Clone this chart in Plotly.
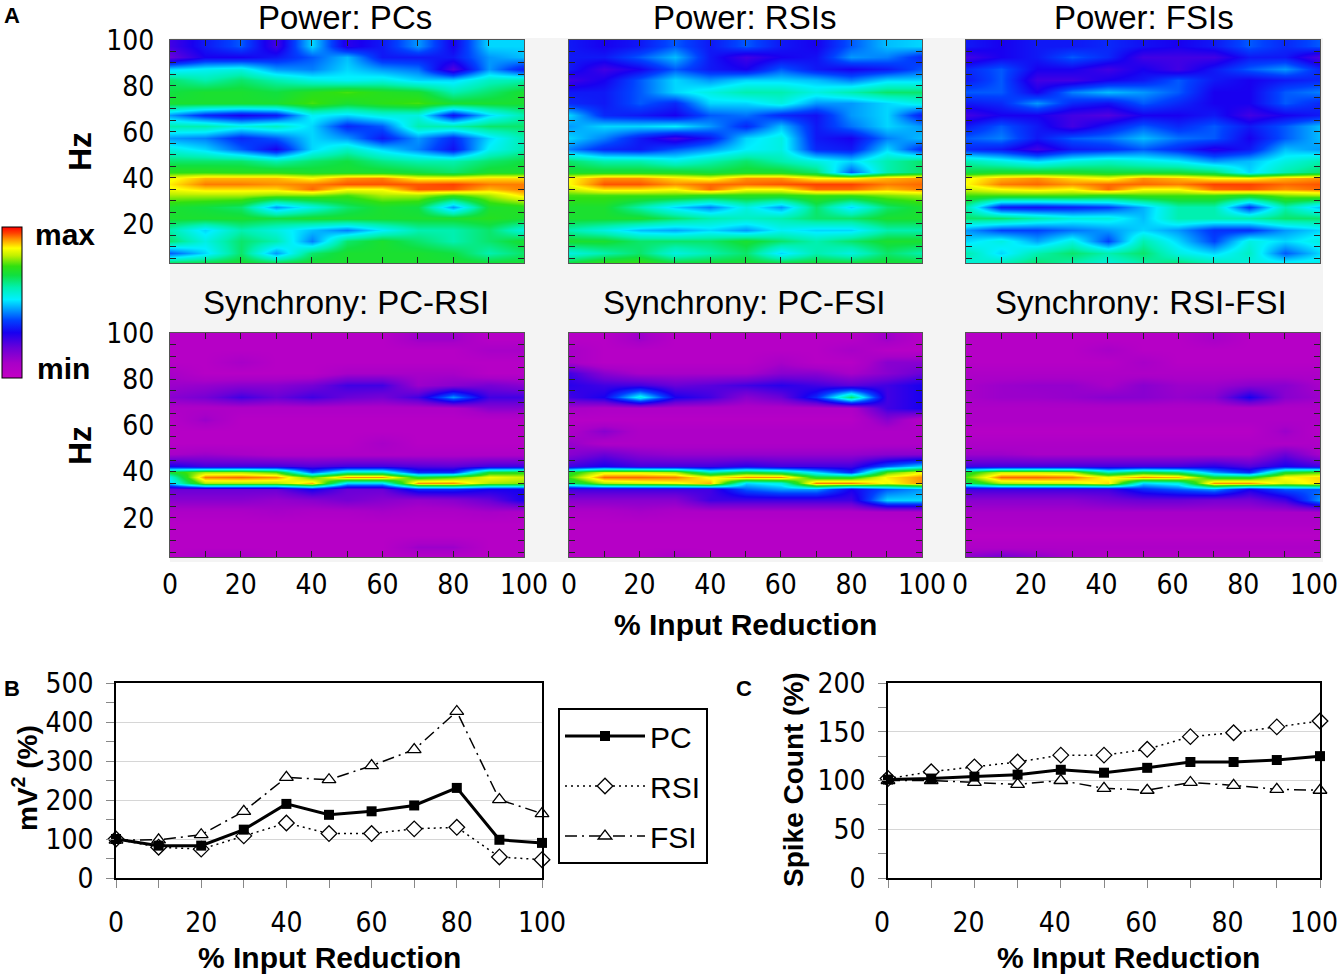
import plotly.graph_objects as go

W, H = 1339, 975

# ---------------- data ----------------
reduction = [0, 10, 20, 30, 40, 50, 60, 70, 80, 90, 100]
# spectrogram rows, top (high Hz) to bottom; finer around the gamma band
freq_hz = [97.5, 92.5, 87.5, 82.5, 77.5, 72.5, 67.5, 62.5, 57.5, 52.5,
           47.5, 42.5, 40, 37.5, 35, 32.5, 27.5, 22.5, 17.5, 12.5, 7.5, 2.5]

# relative level, 0 = min ... 10 = max
power_pcs = [
    [2.5, 3.3, 4.0, 2.5, 5.0, 2.8, 3.3, 4.5, 3.0, 5.0, 5.0],
    [2.0, 3.0, 3.0, 3.3, 4.0, 4.8, 3.3, 3.3, 3.3, 4.5, 4.8],
    [5.0, 5.3, 5.5, 4.5, 4.3, 5.0, 4.5, 4.2, 2.3, 4.5, 3.3],
    [6.5, 6.0, 6.5, 6.0, 5.5, 5.3, 5.5, 5.0, 5.0, 5.8, 6.0],
    [6.8, 7.0, 7.0, 6.8, 7.2, 7.5, 7.2, 7.0, 6.0, 6.5, 7.0],
    [7.0, 7.0, 7.0, 7.0, 7.5, 7.0, 7.3, 7.5, 7.0, 7.0, 7.0],
    [4.5, 3.5, 3.0, 3.3, 5.3, 5.0, 5.5, 5.5, 3.2, 5.0, 6.0],
    [6.0, 6.0, 5.5, 5.8, 5.0, 3.5, 4.0, 6.0, 6.0, 6.5, 6.5],
    [4.5, 4.3, 3.5, 4.0, 5.0, 4.5, 3.3, 4.5, 3.5, 5.0, 6.0],
    [5.5, 5.0, 4.0, 3.0, 5.0, 5.8, 5.0, 4.3, 3.2, 5.3, 6.0],
    [6.5, 6.5, 6.5, 6.0, 6.5, 6.8, 6.3, 6.0, 6.0, 6.5, 6.8],
    [7.3, 7.3, 7.2, 7.2, 7.0, 7.0, 7.0, 6.8, 6.5, 7.0, 7.0],
    [8.5, 9.0, 9.0, 9.0, 8.6, 9.2, 9.3, 8.6, 8.6, 8.8, 8.8],
    [8.7, 9.3, 9.3, 9.2, 9.3, 9.5, 9.5, 9.5, 9.6, 9.3, 9.3],
    [8.5, 8.8, 8.8, 8.8, 9.4, 8.6, 8.6, 9.5, 9.5, 9.0, 9.3],
    [8.0, 8.0, 8.0, 7.8, 7.8, 7.5, 8.0, 8.0, 7.5, 8.0, 8.8],
    [7.0, 6.8, 6.5, 4.5, 5.5, 6.5, 7.0, 6.8, 4.5, 7.0, 7.2],
    [7.0, 7.0, 7.0, 6.8, 7.0, 7.0, 7.0, 7.0, 7.0, 7.2, 7.0],
    [6.0, 5.0, 6.0, 5.5, 4.8, 4.3, 5.2, 6.0, 6.0, 6.5, 5.5],
    [6.5, 5.5, 6.5, 6.0, 4.3, 6.5, 7.0, 6.5, 6.0, 6.5, 7.0],
    [4.0, 5.0, 6.5, 4.5, 6.5, 7.0, 7.0, 7.0, 6.8, 6.0, 6.5],
    [7.0, 7.0, 7.0, 7.0, 7.0, 7.0, 7.0, 7.0, 7.0, 7.0, 7.0],
]
power_rsis = [
    [3.3, 3.0, 3.3, 4.0, 3.3, 4.0, 3.3, 3.0, 4.0, 4.8, 5.0],
    [3.3, 3.3, 4.0, 4.8, 3.3, 2.5, 3.0, 3.2, 4.5, 4.3, 3.5],
    [3.3, 2.5, 3.0, 4.0, 3.3, 3.0, 4.0, 3.3, 3.0, 3.3, 4.0],
    [2.5, 3.0, 4.0, 5.0, 4.5, 5.0, 5.0, 4.8, 4.3, 5.0, 5.0],
    [3.3, 3.3, 4.0, 5.0, 5.5, 6.0, 6.0, 5.5, 6.0, 6.5, 6.5],
    [3.5, 3.3, 4.0, 3.5, 5.0, 5.0, 5.5, 4.5, 4.5, 5.0, 5.5],
    [5.0, 3.5, 3.3, 3.0, 4.0, 4.2, 3.5, 3.2, 4.5, 5.0, 3.3],
    [4.5, 5.0, 5.0, 5.2, 4.5, 3.5, 4.8, 3.3, 4.2, 5.0, 4.5],
    [5.0, 4.3, 3.3, 2.5, 3.3, 5.0, 5.5, 3.3, 3.0, 4.3, 4.8],
    [4.3, 3.5, 3.3, 4.0, 4.5, 5.2, 5.5, 3.5, 3.3, 5.0, 3.5],
    [6.5, 6.0, 6.0, 5.5, 6.0, 6.5, 6.0, 5.5, 5.0, 6.0, 6.5],
    [7.0, 7.0, 7.0, 7.0, 6.8, 7.0, 7.0, 6.5, 4.0, 6.0, 6.5],
    [8.6, 9.2, 9.2, 8.8, 8.5, 9.2, 9.2, 8.6, 8.6, 9.0, 9.2],
    [8.6, 9.5, 9.5, 9.2, 9.4, 9.4, 9.5, 9.6, 9.6, 9.3, 9.4],
    [8.2, 8.8, 8.8, 8.6, 9.4, 8.6, 8.6, 9.4, 9.4, 9.0, 9.3],
    [7.5, 7.5, 7.5, 7.5, 7.3, 7.3, 7.3, 7.5, 7.5, 7.8, 8.0],
    [7.0, 7.0, 6.0, 5.0, 4.3, 5.5, 4.5, 6.5, 5.0, 6.5, 7.0],
    [7.0, 7.0, 7.0, 6.5, 6.0, 5.8, 6.0, 6.5, 6.5, 7.0, 7.0],
    [6.0, 5.5, 4.8, 4.6, 5.0, 4.5, 5.3, 5.0, 5.0, 6.0, 6.0],
    [7.0, 7.0, 6.5, 6.5, 6.5, 7.0, 6.5, 6.0, 6.5, 7.0, 7.0],
    [5.5, 6.0, 6.5, 5.5, 6.0, 6.5, 5.0, 6.0, 5.5, 6.5, 6.0],
    [7.0, 7.5, 7.5, 7.0, 7.0, 7.0, 7.0, 7.0, 7.0, 7.0, 7.0],
]
power_fsis = [
    [3.3, 3.0, 3.3, 3.3, 3.5, 3.2, 3.0, 3.3, 4.0, 3.5, 4.0],
    [2.5, 3.0, 3.3, 4.0, 3.5, 2.5, 2.5, 2.5, 3.3, 3.3, 2.3],
    [3.5, 4.0, 3.0, 3.0, 2.5, 3.0, 2.5, 3.3, 4.0, 4.5, 3.5],
    [3.3, 4.0, 2.5, 2.5, 3.0, 3.3, 4.0, 3.3, 3.0, 3.3, 3.5],
    [4.0, 4.0, 3.0, 4.3, 4.8, 4.5, 4.0, 3.0, 3.0, 4.0, 4.3],
    [3.3, 3.5, 4.5, 3.5, 3.2, 4.0, 3.5, 3.0, 3.0, 4.0, 3.5],
    [2.5, 3.0, 3.0, 2.5, 2.3, 3.0, 3.0, 3.3, 2.5, 3.0, 3.3],
    [3.3, 4.0, 3.3, 2.5, 3.3, 4.0, 3.5, 4.0, 3.3, 4.0, 4.8],
    [4.0, 4.3, 3.3, 4.0, 4.2, 4.8, 4.2, 4.0, 3.0, 4.0, 4.8],
    [3.5, 3.3, 2.5, 3.3, 3.5, 4.0, 3.5, 2.8, 3.3, 4.8, 4.5],
    [6.0, 5.5, 5.0, 5.5, 5.8, 5.5, 5.2, 4.5, 4.8, 5.5, 6.0],
    [6.8, 7.0, 7.0, 7.0, 6.8, 6.8, 6.8, 6.5, 5.0, 6.0, 6.5],
    [8.5, 9.0, 9.2, 8.8, 8.5, 9.2, 9.0, 8.6, 8.6, 9.0, 9.2],
    [8.6, 9.3, 9.4, 9.2, 9.4, 9.4, 9.3, 9.6, 9.6, 9.4, 9.5],
    [8.2, 8.6, 8.8, 8.6, 9.4, 8.6, 8.6, 9.4, 9.5, 9.2, 9.4],
    [7.5, 7.5, 7.5, 7.5, 7.3, 7.5, 7.5, 7.5, 7.3, 7.8, 8.0],
    [6.0, 3.3, 3.2, 3.4, 3.7, 4.7, 6.0, 6.0, 3.6, 6.0, 4.8],
    [6.5, 6.5, 6.0, 5.5, 5.5, 4.8, 6.0, 6.0, 6.0, 6.5, 6.5],
    [4.5, 3.8, 3.8, 4.2, 4.5, 5.0, 4.5, 3.6, 3.6, 4.5, 5.0],
    [5.0, 5.5, 4.6, 5.5, 3.8, 6.0, 5.0, 3.8, 5.5, 5.0, 5.5],
    [6.0, 5.0, 6.0, 6.5, 6.0, 6.5, 5.5, 5.0, 5.8, 4.0, 5.0],
    [5.5, 6.0, 6.5, 6.0, 5.5, 6.0, 6.5, 6.0, 5.5, 5.5, 5.5],
]
sync_pc_rsi = [
    [0.5, 0.5, 0.5, 0.5, 0.5, 0.5, 0.5, 1.2, 1.2, 0.5, 0.5],
    [0.5, 0.5, 0.5, 0.5, 0.5, 0.5, 0.5, 0.5, 0.5, 1.0, 1.0],
    [0.5, 0.5, 1.0, 0.5, 0.5, 0.5, 0.5, 0.5, 0.5, 0.5, 0.5],
    [1.0, 0.5, 0.5, 0.5, 0.5, 1.0, 1.0, 1.0, 1.0, 0.5, 0.5],
    [1.2, 1.3, 1.5, 1.5, 1.8, 2.5, 2.5, 1.2, 1.5, 1.8, 1.5],
    [1.5, 1.8, 2.5, 2.0, 2.5, 2.0, 1.8, 2.5, 4.5, 2.5, 2.5],
    [0.8, 0.8, 0.8, 0.8, 0.8, 0.8, 0.8, 0.8, 0.8, 1.5, 1.5],
    [0.5, 1.2, 0.5, 0.5, 0.5, 0.5, 0.5, 0.5, 0.5, 0.5, 0.5],
    [0.5, 0.5, 0.5, 0.5, 0.5, 0.5, 0.5, 0.5, 0.5, 0.5, 0.5],
    [0.5, 0.5, 0.5, 0.5, 0.5, 0.5, 1.0, 0.5, 0.5, 0.5, 0.5],
    [1.0, 1.2, 1.0, 0.8, 0.8, 0.8, 0.8, 0.8, 0.8, 0.8, 0.8],
    [3.0, 2.5, 2.5, 2.5, 2.3, 2.5, 2.5, 2.3, 2.2, 2.5, 2.5],
    [7.0, 8.0, 8.0, 7.5, 4.0, 6.0, 6.0, 3.5, 3.5, 7.0, 7.2],
    [5.5, 9.3, 9.4, 9.2, 7.5, 9.2, 9.2, 7.0, 7.5, 8.5, 8.2],
    [5.0, 8.0, 8.0, 8.0, 9.0, 5.0, 5.0, 9.2, 9.2, 8.0, 7.8],
    [2.0, 2.0, 2.0, 2.0, 3.0, 2.0, 2.0, 3.5, 3.5, 3.0, 3.0],
    [1.5, 1.5, 1.5, 1.3, 1.5, 1.8, 1.5, 1.3, 1.5, 2.0, 3.0],
    [0.8, 0.8, 0.8, 1.0, 0.8, 0.8, 1.0, 0.8, 0.8, 1.0, 0.8],
    [0.5, 0.5, 0.5, 0.5, 0.5, 0.5, 0.5, 0.5, 0.5, 0.5, 0.5],
    [0.5, 0.5, 0.5, 0.5, 0.5, 0.5, 0.5, 0.5, 0.5, 0.5, 0.5],
    [0.5, 0.5, 0.5, 0.5, 0.5, 0.5, 0.5, 1.2, 1.2, 0.5, 0.5],
    [0.5, 1.0, 1.0, 0.5, 0.5, 0.5, 0.5, 0.5, 0.5, 0.5, 0.5],
]
sync_pc_fsi = [
    [0.5, 0.5, 1.2, 0.5, 0.5, 0.5, 0.5, 0.5, 0.5, 1.2, 0.5],
    [1.0, 0.5, 0.5, 0.5, 0.5, 0.5, 0.5, 0.5, 1.0, 0.5, 0.5],
    [1.0, 0.5, 0.5, 0.5, 0.5, 0.5, 1.0, 0.5, 0.5, 1.5, 1.5],
    [2.5, 1.5, 1.0, 1.0, 1.0, 1.0, 1.5, 1.5, 1.0, 1.5, 2.0],
    [2.8, 2.5, 2.5, 2.0, 2.2, 2.5, 2.8, 2.5, 2.2, 2.5, 3.0],
    [2.5, 3.0, 5.5, 3.0, 2.5, 1.5, 2.0, 3.5, 6.5, 2.5, 3.0],
    [1.0, 0.8, 0.8, 0.8, 0.8, 0.8, 0.8, 0.8, 0.8, 2.5, 3.0],
    [0.5, 0.5, 0.5, 0.5, 0.5, 0.5, 0.5, 0.5, 0.5, 1.5, 0.5],
    [0.8, 1.5, 0.8, 0.8, 0.8, 0.8, 0.8, 0.8, 0.8, 0.8, 0.8],
    [1.3, 0.8, 0.8, 0.8, 0.8, 0.8, 0.8, 0.8, 0.8, 0.8, 0.8],
    [1.5, 2.0, 1.5, 1.3, 1.3, 1.3, 1.3, 1.3, 1.3, 1.5, 1.5],
    [2.5, 3.0, 2.5, 2.5, 2.5, 2.8, 2.5, 2.5, 2.5, 4.0, 5.0],
    [7.0, 8.3, 8.3, 8.0, 6.0, 7.0, 6.5, 5.0, 3.5, 7.5, 8.5],
    [7.5, 9.4, 9.4, 9.3, 8.5, 9.2, 9.2, 7.0, 7.0, 8.7, 9.2],
    [6.5, 8.0, 8.3, 8.5, 9.0, 5.0, 5.5, 9.3, 9.3, 8.5, 9.2],
    [2.5, 2.5, 2.5, 2.5, 2.5, 4.0, 4.5, 4.5, 3.0, 4.0, 4.5],
    [1.5, 1.5, 1.5, 1.5, 2.5, 2.5, 2.5, 2.5, 2.5, 5.0, 5.0],
    [0.8, 0.8, 1.0, 0.8, 0.8, 0.8, 0.8, 0.8, 0.8, 0.8, 0.8],
    [0.5, 0.5, 0.5, 0.5, 0.5, 0.5, 0.5, 0.5, 0.5, 0.5, 0.5],
    [0.5, 0.5, 0.5, 0.5, 0.5, 0.5, 0.5, 0.5, 0.5, 0.5, 0.5],
    [0.5, 0.5, 0.5, 0.5, 0.5, 0.5, 0.5, 0.5, 0.5, 0.5, 0.5],
    [0.5, 0.5, 0.5, 1.0, 0.5, 0.5, 0.5, 0.5, 0.5, 0.5, 0.5],
]
sync_rsi_fsi = [
    [0.5, 0.5, 0.5, 0.5, 0.5, 0.5, 0.5, 1.0, 0.5, 0.5, 0.5],
    [0.5, 0.5, 0.5, 0.5, 1.0, 0.5, 0.5, 0.5, 0.5, 0.5, 0.5],
    [0.5, 0.5, 0.5, 0.5, 0.5, 1.0, 0.5, 0.5, 0.5, 0.5, 0.5],
    [0.8, 0.8, 0.8, 0.8, 0.8, 0.8, 0.8, 0.8, 0.8, 0.8, 0.8],
    [1.0, 1.2, 1.3, 1.3, 1.0, 1.5, 1.2, 1.2, 1.5, 1.5, 1.0],
    [1.0, 1.2, 1.2, 1.3, 1.5, 1.5, 1.3, 1.5, 3.0, 1.5, 1.2],
    [0.8, 0.8, 0.8, 0.8, 0.8, 0.8, 0.8, 0.8, 0.8, 0.8, 0.8],
    [0.8, 0.8, 0.8, 0.8, 0.8, 0.8, 0.8, 0.8, 0.8, 0.8, 0.8],
    [0.5, 0.5, 0.5, 0.5, 0.5, 0.5, 0.5, 0.5, 0.5, 1.2, 0.5],
    [0.8, 0.8, 0.8, 0.8, 0.8, 0.8, 0.8, 0.8, 0.8, 0.8, 0.8],
    [1.2, 1.2, 1.0, 1.0, 1.0, 1.0, 1.0, 1.0, 1.0, 2.0, 1.0],
    [2.5, 2.5, 2.5, 2.5, 2.5, 2.5, 2.5, 2.8, 2.3, 3.0, 2.5],
    [7.0, 8.2, 8.2, 8.0, 6.0, 7.0, 6.5, 4.5, 3.5, 7.0, 7.5],
    [7.5, 9.4, 9.4, 9.3, 8.5, 9.2, 9.0, 7.0, 7.0, 8.6, 8.8],
    [6.5, 8.0, 8.2, 8.3, 8.8, 5.0, 5.5, 9.2, 9.2, 8.3, 8.8],
    [2.5, 2.5, 2.5, 2.5, 2.5, 3.5, 4.0, 4.5, 3.0, 4.0, 4.0],
    [1.5, 1.5, 1.5, 1.5, 1.8, 2.0, 2.0, 1.8, 1.8, 2.5, 4.5],
    [1.0, 1.0, 1.0, 1.0, 1.0, 1.0, 1.0, 1.0, 1.0, 1.0, 1.0],
    [0.8, 0.8, 0.8, 0.8, 0.8, 0.8, 0.8, 0.8, 0.8, 0.8, 0.8],
    [0.5, 0.5, 0.5, 0.5, 0.5, 0.5, 0.5, 0.5, 0.5, 0.5, 0.5],
    [0.8, 0.8, 0.8, 0.8, 0.8, 0.8, 0.8, 0.8, 0.8, 0.8, 0.8],
    [1.5, 2.0, 1.5, 1.0, 0.5, 0.5, 0.5, 0.5, 0.5, 0.5, 0.5],
]

panel_titles = ["Power: PCs", "Power: RSIs", "Power: FSIs",
                "Synchrony: PC-RSI", "Synchrony: PC-FSI", "Synchrony: RSI-FSI"]
panel_data = [power_pcs, power_rsis, power_fsis, sync_pc_rsi, sync_pc_fsi, sync_rsi_fsi]

# panel B: power (mV^2, % of control); panel C: spike count (%)
power_pc = [100, 83, 83, 124, 190, 162, 171, 186, 231, 98, 90]
power_rsi = [100, 79, 74, 108, 141, 114, 114, 126, 130, 54, 47]
power_fsi = [97, 98, 111, 171, 258, 252, 288, 329, 427, 201, 165]
spikes_pc = [101, 102, 104, 106, 111, 108, 113, 119, 119, 121, 125]
spikes_rsi = [102, 109, 114, 119, 126, 126, 132, 145, 149, 155, 161]
spikes_fsi = [100, 100, 98, 96, 100, 92, 90, 98, 95, 91, 90]

# ---------------- styling ----------------
NARROW = "DejaVu Sans Condensed, Liberation Sans Narrow, sans-serif"
SANS = "Liberation Sans, Arial, sans-serif"
TICK_SIZE = 28

jet = [
    [0.00, "#c400c4"], [0.10, "#a800c8"], [0.20, "#6a00d8"], [0.30, "#1800f0"],
    [0.38, "#0040ff"], [0.45, "#0098ff"], [0.52, "#00f0ff"], [0.60, "#00f0b0"],
    [0.68, "#10e040"], [0.74, "#30e010"], [0.81, "#c0f000"], [0.86, "#ffff00"],
    [0.92, "#ff9000"], [0.96, "#ff4000"], [1.00, "#ff0000"],
]


def fx(p):
    return p / W


def fy(p):
    return 1 - p / H


col_px = [(170, 524), (569, 922), (966, 1320)]
row_px = [(40, 263), (333, 557)]

fig = go.Figure()
layout = {}

for i, z in enumerate(panel_data):
    r, c = divmod(i, 3)
    n = i + 1
    fig.add_trace(go.Heatmap(
        x=reduction, y=freq_hz[::-1], z=z[::-1], zmin=0, zmax=10,
        colorscale=jet, zsmooth="best", hoverinfo="skip",
        xaxis=f"x{n}", yaxis=f"y{n}",
        showscale=(i == 0),
        colorbar=dict(x=fx(2), xanchor="left", y=fy(302.5), yanchor="middle",
                      len=151 / H, thickness=20, xpad=0, ypad=0,
                      outlinewidth=1, outlinecolor="black",
                      showticklabels=False, ticks=""),
    ))
    tick = dict(ticks="inside", ticklen=6, tickcolor="#222", tickwidth=1)
    layout[f"xaxis{n}"] = dict(
        domain=[fx(col_px[c][0]), fx(col_px[c][1])], anchor=f"y{n}",
        range=[0, 100], dtick=20, tick0=0, **tick,
        minor=dict(dtick=10, **tick),
        showline=True, linecolor="#555", linewidth=1, mirror="ticks",
        showgrid=False, zeroline=False, showticklabels=(r == 1), automargin=False,
        ticklabeloverflow="allow", ticklabelshift=(-6 if c == 2 else 0),
        tickfont=dict(family=NARROW, size=TICK_SIZE, color="black"), ticklabelstandoff=2,
    )
    layout[f"yaxis{n}"] = dict(
        domain=[fy(row_px[r][1]), fy(row_px[r][0])], anchor=f"x{n}",
        range=[3, 100], dtick=20, tick0=0, **tick,
        minor=dict(dtick=5, **tick),
        showline=True, linecolor="#555", linewidth=1, mirror="ticks",
        showgrid=False, zeroline=False, showticklabels=(c == 0), automargin=False,
        ticklabeloverflow="allow",
        tickfont=dict(family=NARROW, size=TICK_SIZE, color="black"), ticklabelstandoff=9,
    )

styles = {
    "PC": dict(line=dict(color="black", width=3),
               marker=dict(symbol="square", size=10, color="black")),
    "RSI": dict(line=dict(color="black", width=1.5, dash="2px,4px"),
                marker=dict(symbol="diamond", size=12, color="white",
                            line=dict(color="black", width=1.3))),
    "FSI": dict(line=dict(color="black", width=1.5, dash="12px,5px,2px,5px"),
                marker=dict(symbol="triangle-up", size=12, color="white",
                            line=dict(color="black", width=1.3))),
}
rank = {"PC": 1, "RSI": 2, "FSI": 3}

for name, vals in [("FSI", power_fsi), ("RSI", power_rsi), ("PC", power_pc)]:
    fig.add_trace(go.Scatter(x=reduction, y=vals, name=name, mode="lines+markers",
                             xaxis="x7", yaxis="y7", cliponaxis=False,
                             legendrank=rank[name], legendgroup=name, **styles[name]))
for name, vals in [("FSI", spikes_fsi), ("RSI", spikes_rsi), ("PC", spikes_pc)]:
    fig.add_trace(go.Scatter(x=reduction, y=vals, name=name, mode="lines+markers",
                             xaxis="x8", yaxis="y8", cliponaxis=False,
                             showlegend=False, legendgroup=name, **styles[name]))

line_tick = dict(ticks="outside", ticklen=8, tickcolor="#888", tickwidth=1)
for n, (x0, x1), ymax, ydt, ymin_dt, shift in [(7, (116, 542), 500, 100, 50, 0),
                                               (8, (888, 1320), 200, 50, 25, -6)]:
    layout[f"xaxis{n}"] = dict(
        domain=[fx(x0), fx(x1)], anchor=f"y{n}", range=[0, 100], dtick=20, tick0=0,
        **line_tick, minor=dict(dtick=10, **line_tick),
        showline=True, linecolor="black", linewidth=1.5, mirror=True,
        showgrid=False, zeroline=False, automargin=False,
        ticklabeloverflow="allow", ticklabelshift=shift,
        tickfont=dict(family=NARROW, size=TICK_SIZE, color="black"), ticklabelstandoff=11,
    )
    layout[f"yaxis{n}"] = dict(
        domain=[fy(878), fy(683)], anchor=f"x{n}", range=[0, ymax], dtick=ydt, tick0=0,
        **line_tick, minor=dict(dtick=ymin_dt, showgrid=False, **line_tick),
        showline=True, linecolor="black", linewidth=1.5, mirror=True,
        showgrid=True, gridcolor="#d6d6d6", gridwidth=1, zeroline=False, automargin=False,
        ticklabeloverflow="allow",
        tickfont=dict(family=NARROW, size=TICK_SIZE, color="black"), ticklabelstandoff=7,
    )


def note(text, x, y, size, family=SANS, angle=0):
    return dict(text=text, x=fx(x), y=fy(y), xref="paper", yref="paper",
                showarrow=False, xanchor="center", yanchor="middle", textangle=angle,
                font=dict(family=family, size=size, color="black"))


title_pos = [(345, 17), (744, 17), (1144, 17), (346, 303), (744, 303), (1141, 303)]
annotations = [note(t, x, y, 33) for t, (x, y) in zip(panel_titles, title_pos)]
annotations += [
    note("<b>A</b>", 12, 16, 22), note("<b>B</b>", 12, 688, 22), note("<b>C</b>", 744, 688, 22),
    note("<b>Hz</b>", 80, 152, 32, angle=-90), note("<b>Hz</b>", 80, 446, 32, angle=-90),
    note("<b>max</b>", 65, 234, 30), note("<b>min</b>", 63, 368, 30),
    note("<b>% Input Reduction</b>", 746, 624, 30),
    note("<b>% Input Reduction</b>", 329, 957, 30),
    note("<b>% Input Reduction</b>", 1128, 957, 30),
    note("<b>mV<sup>2</sup> (%)</b>", 25, 778, 28, angle=-90),
    note("<b>Spike Count (%)</b>", 793, 780, 28, angle=-90),
]

fig.update_layout(
    template="none",
    width=W, height=H, margin=dict(l=0, r=0, t=0, b=0, autoexpand=False),
    paper_bgcolor="white", plot_bgcolor="rgba(0,0,0,0)",
    showlegend=True,
    legend=dict(x=fx(558), y=fy(708), xanchor="left", yanchor="top",
                bordercolor="black", borderwidth=2, bgcolor="white",
                font=dict(family=SANS, size=30, color="black"),
                itemwidth=80, tracegroupgap=8, traceorder="grouped"),
    shapes=[dict(type="rect", xref="paper", yref="paper", x0=fx(170), x1=fx(1323),
                 y0=fy(562), y1=fy(38), fillcolor="#f4f4f4", line=dict(width=0),
                 layer="below")],
    annotations=annotations,
    **layout,
)

# page has a default 8px body margin; drop it so the figure fills the window
fig.write_html("out.html", config={"displayModeBar": False},
               post_script="document.body.style.margin='0px';")
